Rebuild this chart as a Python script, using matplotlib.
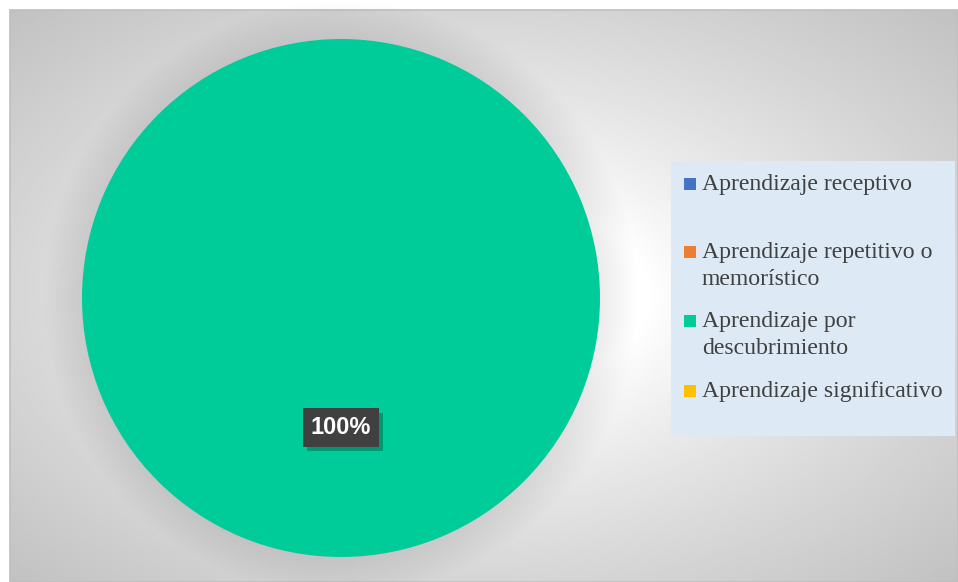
import numpy as np
import matplotlib.pyplot as plt
import matplotlib.patheffects as pe
from matplotlib.patches import Rectangle, Circle

labels = ['Aprendizaje receptivo',
          'Aprendizaje repetitivo o\nmemorístico',
          'Aprendizaje por\ndescubrimiento',
          'Aprendizaje significativo']
values = [0, 0, 100, 0]
colors = ['#4472C4', '#ED7D31', '#00CC99', '#FFC000']

W, H = 958, 582
fig = plt.figure(figsize=(W / 100, H / 100), dpi=100)
ax = fig.add_axes([0, 0, 1, 1])
ax.set_axis_off()

# chart area with radial grey gradient
x0, x1, y0, y1 = 10, 958, 0, 572
gx, gy = np.meshgrid(np.linspace(x0, x1, 400), np.linspace(y0, y1, 250))
cx, cy = (x0 + x1) / 2, (y0 + y1) / 2
d = np.sqrt(((gx - cx) / ((x1 - x0) / 2)) ** 2 + ((gy - cy) / ((y1 - y0) / 2)) ** 2)
t = np.clip((d - 0.35) / (1.41 - 0.35), 0, 1)
v = 1.0 - 0.24 * t ** 0.8
ax.imshow(v, extent=(x0, x1, y0, y1), origin='lower', cmap='gray', vmin=0, vmax=1,
          interpolation='bilinear', zorder=0)
ax.add_patch(Rectangle((x0, y0), x1 - x0, y1 - y0, fill=False, ec='#bfbfbf', lw=1.2, zorder=1))

# pie and its soft shadow
pcx, pcy, R = 341, 284, 259
for k in range(20):
    ax.add_patch(Circle((pcx, pcy), R + 2 * k, color='black', alpha=0.005, lw=0, zorder=1.5))

wedges, texts, autotexts = ax.pie(values, colors=colors, center=(pcx, pcy), radius=R,
                                  startangle=90, counterclock=False,
                                  wedgeprops=dict(linewidth=0),
                                  autopct=lambda p: '%d%%' % round(p) if p > 0 else '',
                                  pctdistance=0.5)
for w in wedges:
    w.set_zorder(2)
for at in autotexts:
    at.set_fontsize(17)
    at.set_fontweight('bold')
    at.set_family('Liberation Sans')
    at.set_color('white')
    at.set_bbox(dict(boxstyle='square,pad=0.32', fc='#404040', ec='none'))
    at.get_bbox_patch().set_path_effects(
        [pe.SimplePatchShadow(offset=(3, -3), shadow_rgbFace='black', alpha=0.25), pe.Normal()])
    at.set_zorder(4)

ax.set_xlim(0, W)
ax.set_ylim(0, H)

# legend
ax.add_patch(Rectangle((671, H - 436), 284, 275, fc='#dde9f5', ec='none', zorder=2))
baselines = [190, 258, 327, 397]
for lab, col, b in zip(labels, colors, baselines):
    ax.add_patch(Rectangle((684, H - b), 12, 12, fc=col, ec='none', zorder=3))
    for i, line in enumerate(lab.split('\n')):
        ax.text(702, H - b - 27 * i, line, fontsize=17.1, family='Liberation Serif',
                color='#404040', ha='left', va='baseline', zorder=3)

fig.savefig('out.png', dpi=100)
